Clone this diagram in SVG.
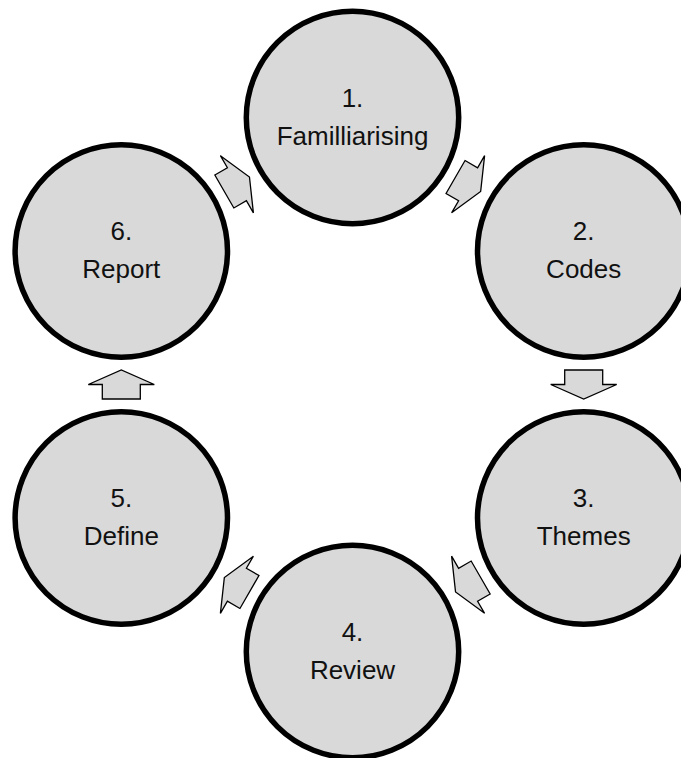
<svg xmlns="http://www.w3.org/2000/svg" xmlns:xlink="http://www.w3.org/1999/xlink" width="681" height="758" viewBox="0 0 681 758">
  <style>
    .step circle { fill: #d9d9d9; stroke: #000; stroke-width: 5.5; }
    .step text { font-family: "Liberation Sans", Arial, sans-serif; font-size: 26px; fill: #111; text-anchor: middle; }
    .flow use { fill: #d9d9d9; stroke: #000; stroke-width: 1.3; stroke-linejoin: miter; }
  </style>
  <defs>
    <!-- block arrow pointing along +x, centred on the origin -->
    <path id="blockArrow" d="M -14.5,-19 L 0,-19 L 0,-33 L 14.5,0 L 0,33 L 0,19 L -14.5,19 Z"/>
  </defs>
  <rect width="681" height="758" fill="#fff"/>

  <g id="connectors" class="flow">
    <use xlink:href="#blockArrow" href="#blockArrow" transform="translate(468.1,184.25) rotate(30)"/>
    <use xlink:href="#blockArrow" href="#blockArrow" transform="translate(583.7,384.5) rotate(90)"/>
    <use xlink:href="#blockArrow" href="#blockArrow" transform="translate(468.1,584.75) rotate(150)"/>
    <use xlink:href="#blockArrow" href="#blockArrow" transform="translate(236.9,584.75) rotate(210)"/>
    <use xlink:href="#blockArrow" href="#blockArrow" transform="translate(121.3,384.5) rotate(270)"/>
    <use xlink:href="#blockArrow" href="#blockArrow" transform="translate(236.9,184.25) rotate(330)"/>
  </g>

  <g id="step1" class="step">
    <circle cx="352.5" cy="117.5" r="106.2"/>
    <text x="352.5" y="106.5">1.</text>
    <text x="352.5" y="144.5">Familliarising</text>
  </g>
  <g id="step2" class="step">
    <circle cx="583.7" cy="251" r="106.2"/>
    <text x="583.7" y="240">2.</text>
    <text x="583.7" y="278">Codes</text>
  </g>
  <g id="step3" class="step">
    <circle cx="583.7" cy="518" r="106.2"/>
    <text x="583.7" y="507">3.</text>
    <text x="583.7" y="545">Themes</text>
  </g>
  <g id="step4" class="step">
    <circle cx="352.5" cy="651.5" r="106.2"/>
    <text x="352.5" y="640.5">4.</text>
    <text x="352.5" y="678.5">Review</text>
  </g>
  <g id="step5" class="step">
    <circle cx="121.3" cy="518" r="106.2"/>
    <text x="121.3" y="507">5.</text>
    <text x="121.3" y="545">Define</text>
  </g>
  <g id="step6" class="step">
    <circle cx="121.3" cy="251" r="106.2"/>
    <text x="121.3" y="240">6.</text>
    <text x="121.3" y="278">Report</text>
  </g>
</svg>
